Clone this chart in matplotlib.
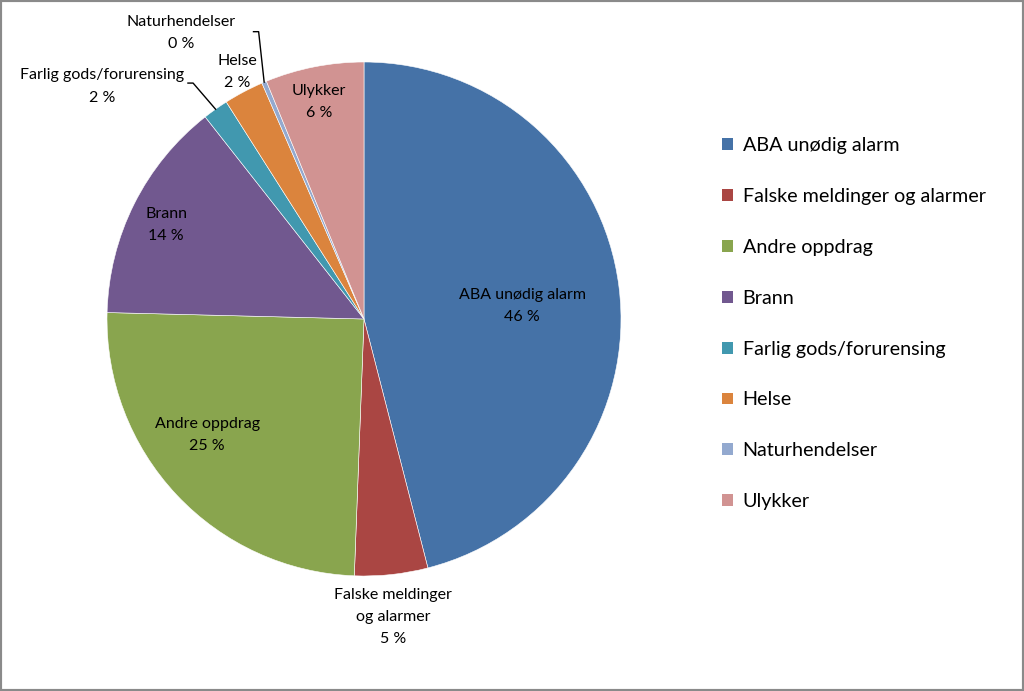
import matplotlib.pyplot as plt
import numpy as np
from matplotlib.patches import Rectangle
from matplotlib.lines import Line2D

plt.rcParams['font.family'] = ['Lato', 'DejaVu Sans']

# Share of call-outs per category (percent)
categories = ['ABA unødig alarm', 'Falske meldinger og alarmer', 'Andre oppdrag',
              'Brann', 'Farlig gods/forurensing', 'Helse', 'Naturhendelser', 'Ulykker']
pie_labels = ['ABA unødig alarm', 'Falske meldinger\nog alarmer', 'Andre oppdrag',
              'Brann', 'Farlig gods/forurensing', 'Helse', 'Naturhendelser', 'Ulykker']
shares = [46.0, 4.6, 24.8, 14.0, 1.6, 2.5, 0.3, 6.2]
colors = ['#4572A7', '#AA4643', '#89A54E', '#71588F',
          '#4198AF', '#DB843D', '#93A9CF', '#D19392']

W, H = 1024, 691
fig = plt.figure(figsize=(W / 100, H / 100), dpi=100)

# pie centre (364, 319) px, radius 257 px
cx, cy, r = 364, 319, 257
ax = fig.add_axes([(cx - r) / W, (H - cy - r) / H, 2 * r / W, 2 * r / H])
wedges, _ = ax.pie(shares, colors=colors, startangle=90, counterclock=False,
                   radius=1, wedgeprops=dict(edgecolor='white', linewidth=0.4))
ax.set_xlim(-1, 1)
ax.set_ylim(-1, 1)
ax.set_aspect('auto')
ax.axis('off')

# label positions (in radius units) and optional leader-line elbow
label_pos = {
    0: (0.615, 0.05, None),
    1: (0.113, -1.16, None),
    2: (-0.61, -0.45, None),
    3: (-0.77, 0.366, None),
    4: (-1.02, 0.905, (-0.665, 0.918)),
    5: (-0.494, 0.961, None),
    6: (-0.712, 1.113, (-0.41, 1.118)),
    7: (-0.175, 0.844, None),
}

for i, w in enumerate(wedges):
    tx, ty, elbow = label_pos[i]
    txt = f'{pie_labels[i]}\n{round(shares[i]):d} %'
    ax.text(tx, ty, txt, ha='center', va='center', fontsize=11.5,
            color='black', linespacing=1.75, clip_on=False)
    if elbow is not None:
        mid = np.deg2rad((w.theta1 + w.theta2) / 2)
        ex, ey = np.cos(mid), np.sin(mid)
        ax.add_line(Line2D([elbow[0] - 0.02, elbow[0], ex], [elbow[1], elbow[1], ey],
                           color='black', lw=1, clip_on=False))

handles = [Rectangle((0, 0), 1, 1, facecolor=c, edgecolor='none') for c in colors]
fig.legend(handles, categories, loc='upper left',
           bbox_to_anchor=(712 / W, 1 - 127 / H), frameon=False, fontsize=14.2,
           handlelength=0.55, handleheight=0.55, handletextpad=0.5,
           labelspacing=1.72, borderpad=0)

fig.patches.append(Rectangle((0, 0), 1, 1, transform=fig.transFigure, fill=False,
                             edgecolor='#8a8a8a', linewidth=3, zorder=10))

fig.savefig('out.png', dpi=100, facecolor='white')
